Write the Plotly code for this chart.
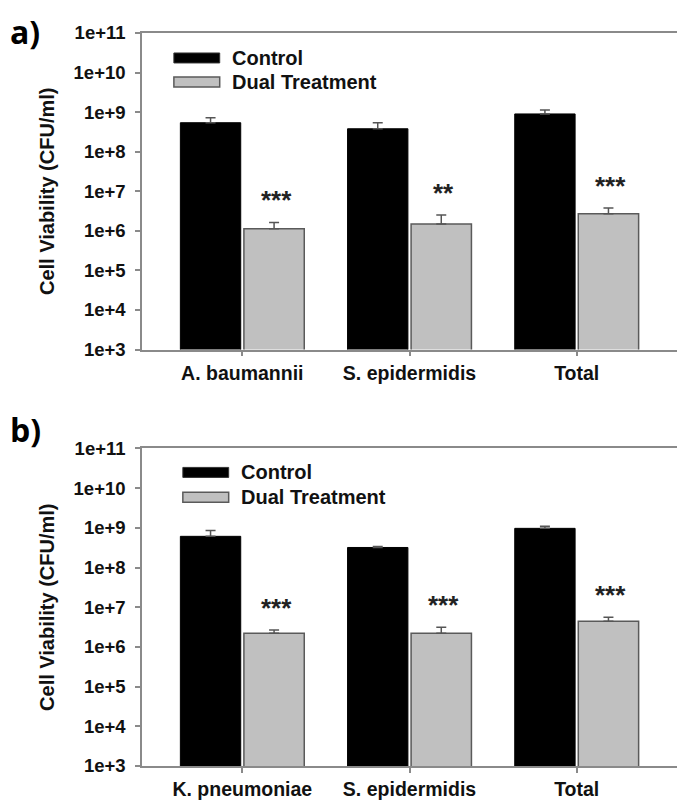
import numpy as np
import plotly.graph_objects as go
from plotly.subplots import make_subplots

# ---------------- data ----------------
categories_a = ["A. baumannii", "S. epidermidis", "Total"]
control_a = [5.4e8, 3.8e8, 9.0e8]
control_a_err = [1.8e8, 1.6e8, 2.4e8]
dual_a = [1.13e6, 1.5e6, 2.7e6]
dual_a_err = [0.5e6, 1.0e6, 1.1e6]
sig_a = ["***", "**", "***"]

categories_b = ["K. pneumoniae", "S. epidermidis", "Total"]
control_b = [6.1e8, 3.2e8, 9.7e8]
control_b_err = [2.5e8, 0.2e8, 1.2e8]
dual_b = [2.2e6, 2.2e6, 4.45e6]
dual_b_err = [0.45e6, 0.95e6, 1.15e6]
sig_b = ["***", "***", "***"]

tick_vals = [1e3, 1e4, 1e5, 1e6, 1e7, 1e8, 1e9, 1e10, 1e11]
tick_text = ["1e+3", "1e+4", "1e+5", "1e+6", "1e+7", "1e+8", "1e+9", "1e+10", "1e+11"]
series_names = ["Control", "Dual Treatment"]
panel_labels = ["a)", "b)"]
y_title = "Cell Viability (CFU/ml)"

# ---------------- layout geometry (pixels of the page) ----------------
# the page body has an 8px margin, so the figure is shrunk and shifted by it
OFF = 8
W, H = 685 - OFF, 806 - OFF
ML, MR, MT, MB = 142 - OFF, 6, 33 - OFF, 39
PW = W - ML - MR
PH = H - MT - MB

def px_x(px):
    return (px - OFF - ML) / PW

def px_y(py):
    return (H - MB - (py - OFF)) / PH

FONT = "Liberation Sans, Arial, sans-serif"
BLACK = "#000000"
GRAY = "#c0c0c0"
EDGE = "#5a5a5a"
AXIS = "#8a8a8a"

fig = make_subplots(rows=2, cols=1, vertical_spacing=0.13)
fig.update_yaxes(domain=[px_y(350), 1.0], row=1, col=1)
fig.update_yaxes(domain=[0.0, px_y(449)], row=2, col=1)

panels = [
    (categories_a, control_a, control_a_err, dual_a, dual_a_err, sig_a),
    (categories_b, control_b, control_b_err, dual_b, dual_b_err, sig_b),
]

for i, (cats, ctl, ctl_e, dual, dual_e, sig) in enumerate(panels):
    r = i + 1
    fig.add_trace(go.Bar(
        x=cats, y=ctl, name=series_names[0], showlegend=False,
        marker=dict(color=BLACK, line=dict(color=BLACK, width=1)),
        error_y=dict(type="data", array=ctl_e, arrayminus=[0] * len(ctl_e),
                     symmetric=False, color="#555555", thickness=1.5, width=5),
    ), row=r, col=1)
    fig.add_trace(go.Bar(
        x=cats, y=dual, name=series_names[1], showlegend=False,
        marker=dict(color=GRAY, line=dict(color=EDGE, width=1.5)),
        error_y=dict(type="data", array=dual_e, arrayminus=[0] * len(dual_e),
                     symmetric=False, color="#555555", thickness=1.5, width=5),
    ), row=r, col=1)
    xref = "x" if r == 1 else "x2"
    yref = "y" if r == 1 else "y2"
    for c, v, e, s in zip(cats, dual, dual_e, sig):
        fig.add_annotation(x=c, y=np.log10(v + e), xref=xref, yref=yref,
                           text=s, showarrow=False, xshift=34, yshift=22,
                           yanchor="middle",
                           font=dict(family=FONT, size=26, color="#222222", weight="bold"))

fig.update_layout(barmode="group", bargap=0.24, bargroupgap=0.05)

axis_common = dict(showline=True, linecolor=AXIS, linewidth=1.5, mirror=True,
                   ticks="outside", ticklen=5, tickcolor=AXIS, tickwidth=1.5,
                   showgrid=False, zeroline=False)

fig.update_xaxes(type="category", range=[-0.6, 2.6],
                 tickfont=dict(family=FONT, size=19.5, color="#111111", weight="bold"),
                 **axis_common)
fig.update_yaxes(type="log", range=[3, 11], tickvals=tick_vals, ticktext=tick_text,
                 ticklabelstandoff=6,
                 tickfont=dict(family=FONT, size=18.5, color="#111111", weight="bold"),
                 title=dict(text=y_title, standoff=14,
                            font=dict(family=FONT, size=20, color="#111111", weight="bold")),
                 **axis_common)

# manual legends (wide swatches like the reference)
legend_pos = [
    (174, 220, 58, 82, 230),
    (183, 229, 473, 498, 239),
]
shapes = []
for (x0, x1, yc1, yc2, tx) in legend_pos:
    shapes.append(dict(type="rect", xref="paper", yref="paper",
                       x0=px_x(x0), x1=px_x(x1), y0=px_y(yc1 + 5), y1=px_y(yc1 - 5),
                       fillcolor=BLACK, line=dict(color="#333333", width=1)))
    shapes.append(dict(type="rect", xref="paper", yref="paper",
                       x0=px_x(x0), x1=px_x(x1), y0=px_y(yc2 + 5), y1=px_y(yc2 - 5),
                       fillcolor=GRAY, line=dict(color=EDGE, width=1.5)))
    for yc, name in zip((yc1, yc2), series_names):
        fig.add_annotation(x=px_x(tx), y=px_y(yc), xref="paper", yref="paper",
                           text=name, showarrow=False, xanchor="left", yanchor="middle",
                           font=dict(family=FONT, size=20, color="#111111", weight="bold"))
fig.update_layout(shapes=shapes)

# panel labels (placed at the figure's left edge)
fig.add_annotation(x=px_x(OFF), y=px_y(OFF), xref="paper", yref="paper",
                   text=panel_labels[0], showarrow=False, xanchor="left", yanchor="top",
                   font=dict(family="Open Sans, sans-serif", size=32, color="#000000",
                             weight="bold"))
fig.add_annotation(x=px_x(OFF), y=px_y(430), xref="paper", yref="paper",
                   text=panel_labels[1], showarrow=False, xanchor="left", yanchor="middle",
                   font=dict(family="Open Sans, sans-serif", size=32, color="#000000",
                             weight="bold"))

fig.update_layout(
    width=W, height=H,
    margin=dict(l=ML, r=MR, t=MT, b=MB),
    paper_bgcolor="white", plot_bgcolor="white",
    showlegend=False,
)

fig.write_html("out.html")
